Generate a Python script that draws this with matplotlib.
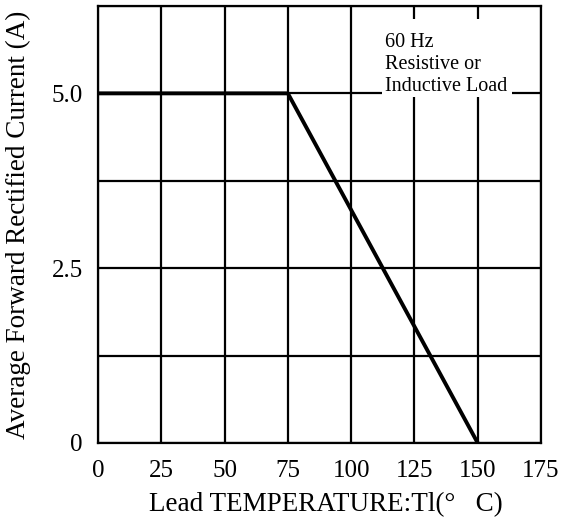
import matplotlib
matplotlib.use("Agg")
import matplotlib.pyplot as plt
from matplotlib.patches import Rectangle

plt.rcParams['font.family'] = ['Liberation Serif', 'DejaVu Serif']

# derating curve
temp = [0, 75, 150]
current = [5.0, 5.0, 0.0]

x_ticks = [0, 25, 50, 75, 100, 125, 150, 175]
y_grid = [0, 1.25, 2.5, 3.75, 5.0, 6.25]
y_ticks = [0, 2.5, 5.0]
y_tick_labels = ['0', '2.5', '5.0']

fig = plt.figure(figsize=(5.62, 5.19), dpi=100)
ax = fig.add_axes([0.1744, 0.1465, 0.7882, 0.8420])

for x in x_ticks:
    ax.axvline(x, color='black', lw=1.6, zorder=1)
for y in y_grid:
    ax.axhline(y, color='black', lw=1.6, zorder=1)

ax.plot(temp, current, color='black', lw=2.8, zorder=3, solid_capstyle='butt')

ax.set_xlim(0, 175)
ax.set_ylim(0, 6.25)
ax.set_xticks(x_ticks)
ax.set_xticklabels([str(v) for v in x_ticks], fontsize=18)
ax.set_yticks(y_ticks)
ax.set_yticklabels(y_tick_labels, fontsize=18)
ax.tick_params(axis='x', length=0, pad=12)
ax.tick_params(axis='y', length=0, pad=11)

ax.set_xlabel('Lead TEMPERATURE:Tl(\u00b0   C)', fontsize=19.5)
ax.xaxis.set_label_coords(0.515, -0.113)
ax.set_ylabel('Average Forward Rectified Current (A)', fontsize=19.5)
ax.yaxis.set_label_coords(-0.152, 0.5)

# white label box covering the grid
ax.add_patch(Rectangle((112.2, 4.95), 51.3, 1.11, facecolor='white',
                       edgecolor='none', zorder=2))
ax.text(113.4, 5.86, '60 Hz\nResistive or\nInductive Load', fontsize=14.5,
        va='top', ha='left', linespacing=1.2, zorder=4)

for s in ax.spines.values():
    s.set_linewidth(1.6)

fig.savefig('out.png', dpi=100)
